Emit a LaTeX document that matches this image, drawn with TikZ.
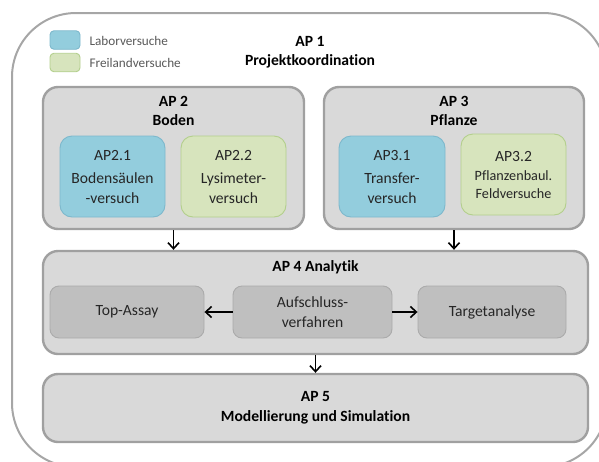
\documentclass[tikz,border=0pt]{standalone}
\usepackage{fontspec}
\setmainfont[Ligatures=NoCommon]{Carlito}
\usetikzlibrary{arrows.meta}
\definecolor{framegray}{HTML}{A6A6A6}
\definecolor{boxgray}{HTML}{D9D9D9}
\definecolor{boxedge}{HTML}{A0A0A0}
\definecolor{innergray}{HTML}{BFBFBF}
\definecolor{inneredge}{HTML}{ABABAB}
\definecolor{labblue}{HTML}{93CDDD}
\definecolor{labedge}{HTML}{7DB8CC}
\definecolor{fieldgreen}{HTML}{D7E4BD}
\definecolor{fieldedge}{HTML}{B3CF8C}
\definecolor{txtdark}{HTML}{262626}
\definecolor{txtgray}{HTML}{595959}
\tikzset{
  apbox/.style={draw=boxedge, line width=2.4pt, fill=boxgray, rounded corners=15pt, inner sep=0pt},
  labbox/.style={draw=labedge, line width=0.9pt, fill=labblue, rounded corners=12pt, inner sep=0pt, text=txtdark, align=center, font=\fontsize{15.6}{20}\selectfont},
  fieldbox/.style={draw=fieldedge, line width=0.9pt, fill=fieldgreen, rounded corners=12pt, inner sep=0pt, text=txtdark, align=center, font=\fontsize{15.6}{20}\selectfont},
  subbox/.style={draw=inneredge, line width=0.9pt, fill=innergray, rounded corners=9pt, inner sep=0pt, text=txtdark, align=center, font=\fontsize{15.6}{20}\selectfont},
  title/.style={text=black, align=center, font=\bfseries\fontsize{15.6}{19.5}\selectfont},
  legtext/.style={text=txtgray, anchor=west, font=\fontsize{13.2}{15}\selectfont},
  swatch/.style={line width=0.9pt, rounded corners=4pt, inner sep=0pt, minimum width=30pt, minimum height=18.5pt},
  flow/.style={draw=black, line width=1.6pt, -{Straight Barb[length=6pt,width=11pt,line width=1.6pt]}}
}
\begin{document}
\begin{tikzpicture}[x=1pt,y=-1pt]
\useasboundingbox (0,0) rectangle (599,461);
\begin{scope}
  \clip (0,0) rectangle (599,461);
  \draw[draw=framegray, line width=2pt, rounded corners=64pt] (12,13) rectangle (607,467);
\end{scope}

% legend
\node[swatch, draw=labedge, fill=labblue] (legblue) at (65,40) {};
\node[swatch, draw=fieldedge, fill=fieldgreen] (leggreen) at (65,62.5) {};
\node[legtext] (legbluetxt) at (86,41) {Laborversuche};
\node[legtext] (leggreentxt) at (86,63) {Freilandversuche};

% AP 1
\node[title] (ap1) at (310,52) {AP 1\\Projektkoordination};

% AP 2
\node[apbox, minimum width=261pt, minimum height=142pt] (ap2) at (173.5,158) {};
\node[title] (ap2t) at (173.5,111) {AP 2\\Boden};
\node[labbox, minimum width=105pt, minimum height=81pt] (ap21) at (112.5,176.5) {AP2.1\\[3pt]Bodensäulen\\-versuch};
\node[fieldbox, minimum width=105pt, minimum height=81pt] (ap22) at (233.5,176.5) {AP2.2\\[3pt]Lysimeter-\\versuch};

% AP 3
\node[apbox, minimum width=260pt, minimum height=142pt] (ap3) at (454,158) {};
\node[title] (ap3t) at (454,111) {AP 3\\Pflanze};
\node[labbox, minimum width=106pt, minimum height=81pt] (ap31) at (392,176.5) {AP3.1\\[3pt]Transfer-\\versuch};
\node[fieldbox, minimum width=105pt, minimum height=81pt, font=\fontsize{14.2}{18}\selectfont] (ap32) at (513.5,174.5) {\fontsize{15.6}{20}\selectfont AP3.2\\[1pt]Pflanzenbaul.\\Feldversuche};

% AP 4
\node[apbox, minimum width=545pt, minimum height=103pt] (ap4) at (315.5,302.5) {};
\node[title] (ap4t) at (315.5,267) {AP 4 Analytik};
\node[subbox, minimum width=154pt, minimum height=52pt] (top) at (127,312) {Top-Assay};
\node[subbox, minimum width=159pt, minimum height=52pt] (auf) at (312.5,312) {Aufschluss-\\verfahren};
\node[subbox, minimum width=148pt, minimum height=52pt] (target) at (492,312) {Targetanalyse};

% AP 5
\node[apbox, minimum width=545pt, minimum height=68pt] (ap5) at (315.5,408) {};
\node[title] (ap5t) at (315.5,408) {AP 5\\Modellierung und Simulation};

% connectors
\draw[flow] (ap2.south) -- (ap2.south |- ap4.north);
\draw[flow] (ap3.south) -- (ap3.south |- ap4.north);
\draw[flow] (auf.west) -- (top.east);
\draw[flow] (auf.east) -- (target.west);
\draw[flow] (ap4.south) -- (ap5.north);
\end{tikzpicture}
\end{document}
